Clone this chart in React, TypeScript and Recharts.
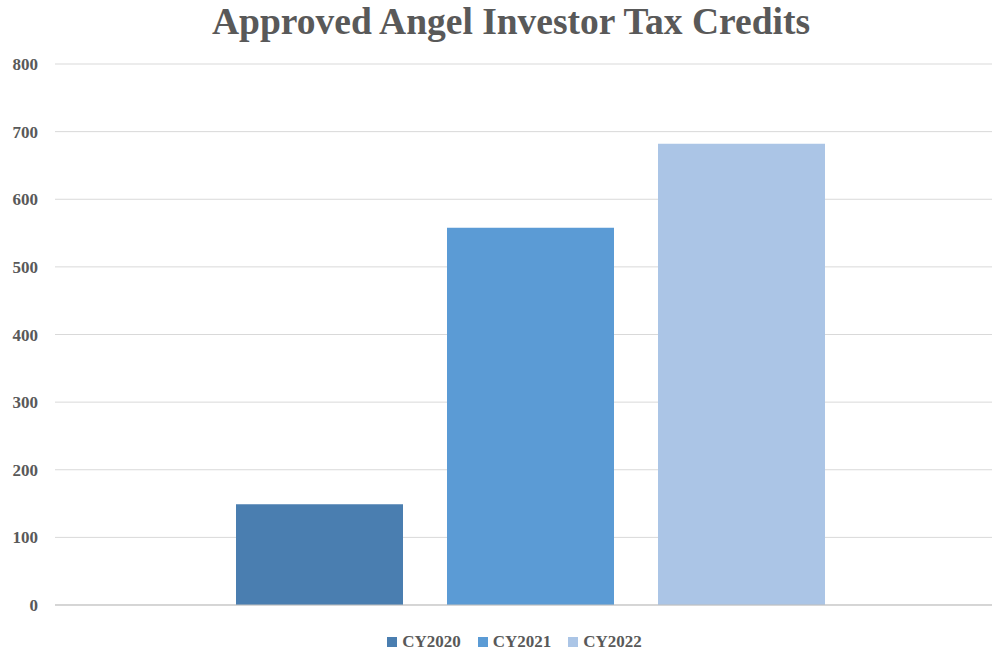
import { BarChart, Bar, XAxis, YAxis, CartesianGrid, Legend, ReferenceLine } from "recharts"

const categories = ["Approved Angel Investor Tax Credits"]
const seriesNames = ["CY2020", "CY2021", "CY2022"]
const seriesValues = [149, 558, 682]
const seriesColors = ["#4a7eb0", "#5b9bd5", "#abc5e6"]
const yTicks = [0, 100, 200, 300, 400, 500, 600, 700, 800]

const data = categories.map((name) => {
  const row: Record<string, string | number> = { name }
  seriesNames.forEach((s, i) => {
    row[s] = seriesValues[i]
  })
  return row
})

const FONT = '"Liberation Serif", "Times New Roman", serif'

function LegendContent() {
  return (
    <div
      style={{
        height: 24,
        lineHeight: "24px",
        display: "flex",
        justifyContent: "center",
        alignItems: "center",
        gap: 17,
        fontFamily: FONT,
        fontWeight: 700,
        fontSize: 17,
        color: "#595959",
      }}
    >
      {seriesNames.map((s, i) => (
        <div key={s} style={{ display: "flex", alignItems: "center", gap: 5 }}>
          <span style={{ width: 10, height: 10, background: seriesColors[i], display: "inline-block" }} />
          <span>{s}</span>
        </div>
      ))}
    </div>
  )
}

export default function App() {
  return (
    <div
      style={{
        position: "fixed",
        top: 0,
        left: 0,
        width: 992,
        height: 652,
        overflow: "hidden",
        background: "#fff",
      }}
    >
      <div
        style={{
          position: "absolute",
          top: 0,
          left: 0,
          width: 1022,
          textAlign: "center",
          fontFamily: FONT,
          fontWeight: 700,
          fontSize: 37.5,
          lineHeight: "44px",
          color: "#595959",
          zIndex: 1,
        }}
      >
        Approved Angel Investor Tax Credits
      </div>
      <BarChart
        width={1005}
        height={652}
        data={data}
        margin={{ top: 64, right: 0, left: 0, bottom: 23 }}
        barSize={167}
        barGap={44}
      >
        <CartesianGrid vertical={false} stroke="#d9d9d9" />
        <XAxis dataKey="name" hide />
        <YAxis
          domain={[0, 800]}
          ticks={yTicks}
          width={55}
          axisLine={false}
          tickLine={false}
          tickSize={0}
          tickMargin={17}
          tick={{ fill: "#595959", fontSize: 17, fontWeight: 700, fontFamily: FONT }}
        />
        <ReferenceLine y={0} stroke="#bfbfbf" />
        {seriesNames.map((s, i) => (
          <Bar key={s} dataKey={s} fill={seriesColors[i]} isAnimationActive={false} />
        ))}
        <Legend
          verticalAlign="bottom"
          wrapperStyle={{ bottom: -2, left: 0, width: 1029 }}
          content={<LegendContent />}
        />
      </BarChart>
    </div>
  )
}
